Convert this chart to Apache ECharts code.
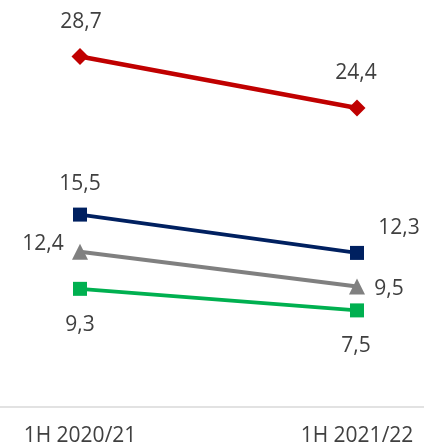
<!DOCTYPE html>
<html>
<head>
<meta charset="utf-8">
<script src="https://cdn.jsdelivr.net/npm/echarts@6/dist/echarts.min.js"></script>
<style>
html,body{margin:0;padding:0;background:#fff;}
#chart{width:424px;height:447px;}
</style>
</head>
<body>
<div id="chart"></div>
<script>
const categories = ['1H 2020/21', '1H 2021/22'];
const redValues = [28.7, 24.4];
const navyValues = [15.5, 12.3];
const grayValues = [12.4, 9.5];
const greenValues = [9.3, 7.5];

const chart = echarts.init(document.getElementById('chart'), null, {renderer: 'canvas'});
const FONT = '"Open Sans", "DejaVu Sans", sans-serif';
const TEXT = '#404040';

function fmt(p) { return String(p.value).replace('.', ','); }

function mkSeries(name, values, color, symbol, symbolSize, width, offsets) {
  return {
    name: name,
    type: 'line',
    xAxisIndex: 0,
    yAxisIndex: 0,
    data: values.map((v, i) => ({
      value: v,
      label: { offset: offsets[i] }
    })),
    symbol: symbol,
    symbolSize: symbolSize,
    showAllSymbol: true,
    itemStyle: { color: color },
    lineStyle: { color: color, width: width },
    label: {
      show: true,
      position: 'inside',
      formatter: fmt,
      color: TEXT,
      fontFamily: FONT,
      fontSize: 21
    },
    emphasis: { disabled: true },
    animation: false
  };
}

chart.setOption({
  animation: false,
  grid: [
    { left: 80, right: 67, top: 17, bottom: 38 },
    { left: 0, right: 0, top: 15, bottom: 40 }
  ],
  xAxis: [
    {
      type: 'category',
      gridIndex: 0,
      data: categories,
      boundaryGap: false,
      axisLine: { show: false },
      axisTick: { show: false },
      axisLabel: { color: TEXT, fontFamily: FONT, fontSize: 21, margin: 21 }
    },
    {
      type: 'category',
      gridIndex: 1,
      data: categories,
      axisLine: { show: true, onZero: false, lineStyle: { color: '#d9d9d9', width: 1.5 } },
      axisTick: { show: false },
      axisLabel: { show: false }
    }
  ],
  yAxis: [
    { type: 'value', gridIndex: 0, min: -0.4, max: 32, show: false, splitLine: { show: false } },
    { type: 'value', gridIndex: 1, min: 0, max: 1, show: false, splitLine: { show: false } }
  ],
  series: [
    mkSeries('red', redValues, '#C00000', 'diamond', 17, 4.5, [[1, -35], [-1, -35]]),
    mkSeries('navy', navyValues, '#002060', 'rect', 14, 3.75, [[0, -31], [42, -25]]),
    mkSeries('gray', grayValues, '#808080', 'triangle', 16, 4, [[-37, -8], [32, 3]]),
    mkSeries('green', greenValues, '#00B050', 'rect', 14, 3.75, [[0, 36], [-1, 36]])
  ]
});
</script>
</body>
</html>
